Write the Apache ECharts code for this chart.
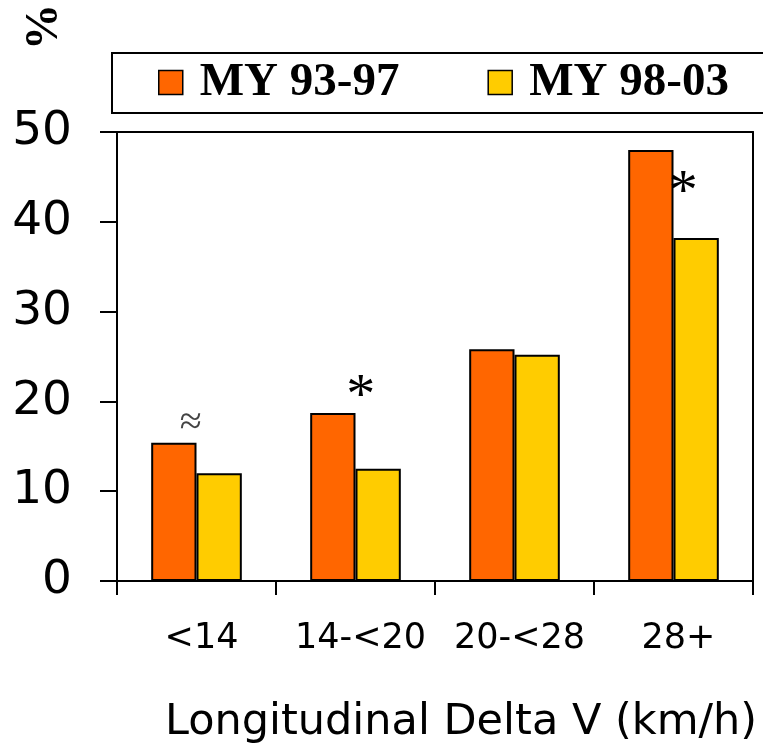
<!DOCTYPE html>
<html><head><meta charset="utf-8">
<script src="https://cdn.jsdelivr.net/npm/echarts@6/dist/echarts.min.js"></script>
<style>html,body{margin:0;padding:0;background:#fff}#c{width:763px;height:754px}</style>
</head><body><div id="c"></div>
<script>
const categories = ['<14', '14-<20', '20-<28', '28+'];
const seriesNames = ['MY 93-97', 'MY 98-03'];
const my9397 = [15.4, 18.7, 25.8, 48.0];
const my9803 = [12.0, 12.5, 25.2, 38.2];
const notes9397 = ['≈', '*', '', ''];
const notes9803 = ['', '', '', '*'];
const yTicks = [0, 10, 20, 30, 40, 50];

const chart = echarts.init(document.getElementById('c'));
function mk(values, notes, offsets, styles) {
  return values.map((v, i) => {
    const d = { value: v };
    if (notes[i]) {
      d.label = Object.assign({ show: true, position: 'top', formatter: notes[i], offset: offsets[i] }, styles[i]);
    }
    return d;
  });
}
const starStyle = { fontFamily: 'Liberation Serif', fontSize: 58, color: '#000', lineHeight: 58 };
const approxStyle = { fontFamily: 'Liberation Serif', fontSize: 40, color: '#444', lineHeight: 40 };
const frameLine = { show: true, onZero: false, lineStyle: { color: '#000', width: 2 } };
chart.setOption({
  animation: false,
  grid: { left: 117, right: 10, top: 132, bottom: 173 },
  legend: {
    left: 112, top: 53, width: 700, orient: 'horizontal',
    padding: [6, 60, 7, 46],
    itemGap: 88,
    itemWidth: 24, itemHeight: 24,
    icon: 'rect',
    borderColor: '#000', borderWidth: 2,
    itemStyle: { borderColor: '#000', borderWidth: 1.5 },
    textStyle: { fontFamily: 'Liberation Serif', fontWeight: 'bold', fontSize: 47, color: '#000', padding: [0, 0, 0, 12] },
    data: seriesNames
  },
  xAxis: [{
    type: 'category', data: categories,
    axisLine: { lineStyle: { color: '#000', width: 2 } },
    axisTick: { show: true, interval: 0, length: 14, lineStyle: { color: '#000', width: 2 } },
    axisLabel: { interval: 0, fontFamily: 'DejaVu Sans', fontSize: 35, color: '#000', margin: 40, padding: [0, 0, 0, 10] },
    name: 'Longitudinal Delta V (km/h)', nameLocation: 'middle', nameGap: 120,
    nameTextStyle: { fontFamily: 'DejaVu Sans', fontSize: 43, color: '#000', padding: [0, 0, 0, 52] }
  }, {
    type: 'category', data: categories, position: 'top',
    axisLine: frameLine, axisTick: { show: false }, axisLabel: { show: false }
  }],
  yAxis: [{
    type: 'value', min: 0, max: 50, interval: 10,
    axisLine: { show: true, lineStyle: { color: '#000', width: 2 } },
    axisTick: { show: true, length: 17, lineStyle: { color: '#000', width: 2 } },
    splitLine: { show: false },
    axisLabel: { fontFamily: 'DejaVu Sans', fontSize: 47, color: '#000', margin: 45,
      formatter: v => (yTicks.indexOf(v) >= 0 ? String(v) : '') }
  }, {
    type: 'value', min: 0, max: 50, interval: 10, position: 'right',
    axisLine: frameLine, axisTick: { show: false }, axisLabel: { show: false }, splitLine: { show: false }
  }],
  graphic: [{
    type: 'text', x: 45, y: 27, rotation: Math.PI / 2,
    style: { text: '%', fontFamily: 'Liberation Serif', fontWeight: 'bold', fontSize: 46, fill: '#000', align: 'center', verticalAlign: 'middle' }
  }],
  series: [
    { name: seriesNames[0], type: 'bar', barGap: '0%', barCategoryGap: '43%',
      itemStyle: { color: '#FF6600', borderColor: '#000', borderWidth: 2 },
      data: mk(my9397, notes9397, [[17, 6], [28, 19], [0, 0], [0, 0]], [approxStyle, starStyle, {}, {}]) },
    { name: seriesNames[1], type: 'bar',
      itemStyle: { color: '#FFCC00', borderColor: '#000', borderWidth: 2 },
      data: mk(my9803, notes9803, [[0, 0], [0, 0], [0, 0], [-13, -10]], [{}, {}, {}, starStyle]) }
  ]
});
</script></body></html>
